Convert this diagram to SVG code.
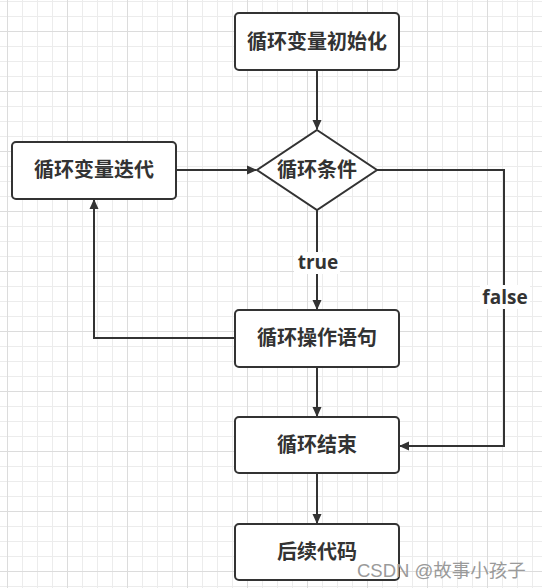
<svg xmlns="http://www.w3.org/2000/svg" width="542" height="588" viewBox="0 0 542 588">
<style>
.node rect, .node polygon { fill: #ffffff; stroke: #333333; stroke-width: 2; }
.lbl { font-family: "Noto Sans CJK SC", "Liberation Sans", sans-serif; font-size: 20px; font-weight: bold; fill: #333333; text-anchor: middle; }
.edge { fill: none; stroke: #333333; stroke-width: 2; }
.elbl { font-family: "Open Sans", "Liberation Sans", sans-serif; font-size: 19px; font-weight: bold; fill: #333333; text-anchor: middle; }
.wm { font-family: "Liberation Sans", "Noto Sans CJK SC", sans-serif; font-size: 18.5px; fill: #9a9a9a; }
</style>
<defs>
<pattern id="grid" x="7" y="31" width="60" height="60" patternUnits="userSpaceOnUse">
<path d="M15.5 0V60M30.5 0V60M45.5 0V60M0 15.5H60M0 30.5H60M0 45.5H60" stroke="#ececec" stroke-width="1" fill="none"/>
<path d="M0.5 0V60M0 0.5H60" stroke="#dcdcdc" stroke-width="1" fill="none"/>
</pattern>
<marker id="arr" markerWidth="10" markerHeight="10" refX="9" refY="5" orient="auto" markerUnits="userSpaceOnUse">
<path d="M0 0.5L10 5L0 9.5Z" fill="#333333"/>
</marker>
</defs>
<rect width="542" height="588" fill="#ffffff"/>
<rect width="542" height="588" fill="url(#grid)"/>
<g id="connectors">
<path class="edge" d="M317 70V129" marker-end="url(#arr)"/>
<path class="edge" d="M176 170H256" marker-end="url(#arr)"/>
<path class="edge" d="M317 210V309" marker-end="url(#arr)"/>
<path class="edge" d="M235 338H94V200" marker-end="url(#arr)"/>
<path class="edge" d="M377 170H504V446H400" marker-end="url(#arr)"/>
<path class="edge" d="M317 367V416" marker-end="url(#arr)"/>
<path class="edge" d="M317 473V523" marker-end="url(#arr)"/>
<rect x="294" y="252" width="46" height="22" fill="#ffffff"/>
<text class="elbl" x="318" y="269">true</text>
<rect x="480" y="285" width="50" height="24" fill="#ffffff"/>
<text class="elbl" x="505" y="304">false</text>
</g>
<g id="n-init" class="node">
<rect x="235" y="13" width="164" height="57" rx="4"/>
<text class="lbl" x="317" y="49">循环变量初始化</text>
</g>
<g id="n-cond" class="node">
<polygon points="317,130 377,170 317,210 257,170"/>
<text class="lbl" x="317" y="177">循环条件</text>
</g>
<g id="n-iter" class="node">
<rect x="12" y="142" width="164" height="57" rx="4"/>
<text class="lbl" x="94" y="177">循环变量迭代</text>
</g>
<g id="n-body" class="node">
<rect x="235" y="310" width="164" height="57" rx="4"/>
<text class="lbl" x="317" y="345">循环操作语句</text>
</g>
<g id="n-end" class="node">
<rect x="235" y="417" width="164" height="56" rx="4"/>
<text class="lbl" x="317" y="452">循环结束</text>
</g>
<g id="n-after" class="node">
<rect x="235" y="524" width="164" height="56" rx="4"/>
<text class="lbl" x="317" y="559">后续代码</text>
</g>
<text class="wm" x="357" y="577">CSDN @故事小孩子</text>
</svg>
